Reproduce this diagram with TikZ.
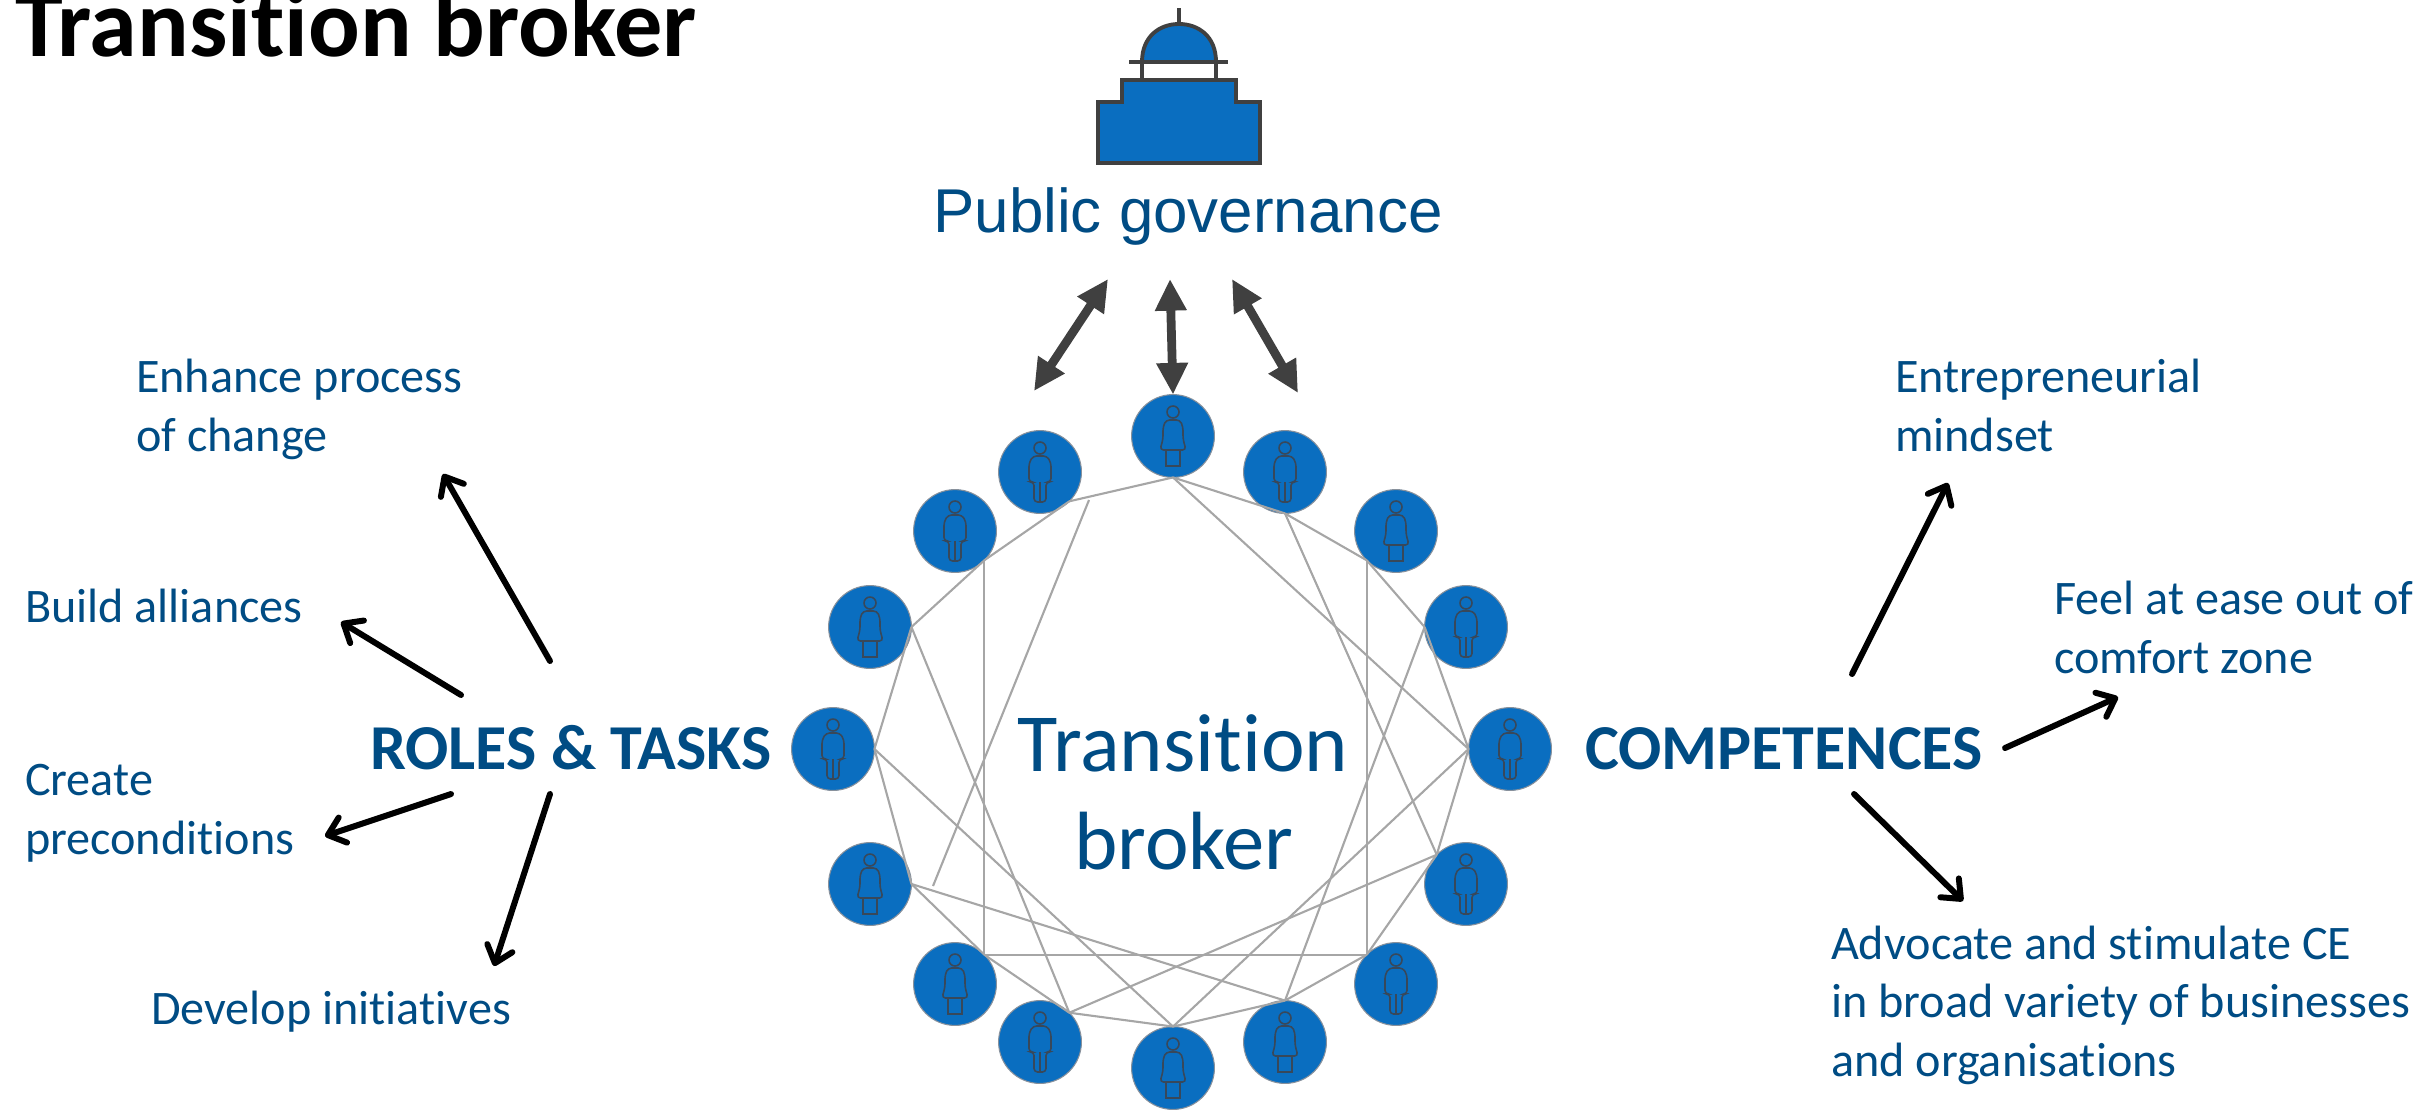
\documentclass[tikz,border=0pt]{standalone}
\usepackage{fontspec}
\usepackage{xcolor}
\usetikzlibrary{arrows.meta}
\setmainfont{Carlito}[Ligatures=CommonOff]
\newfontfamily\govfont{Liberation Sans}
\definecolor{brokerblue}{HTML}{004C84}
\definecolor{discblue}{HTML}{0A6EC0}
\definecolor{iconline}{HTML}{38485A}
\definecolor{arrowgrey}{HTML}{404040}
\definecolor{wiregrey}{HTML}{A6A6A6}
\newcommand{\labelfont}{\fontsize{13.7}{16.6}\selectfont}

\tikzset{
  person/.style={shape=circle,fill=discblue,draw=iconline!60,line width=0.3pt,minimum size=0.828cm,inner sep=0pt,outer sep=0pt},
  wire/.style={draw=wiregrey,line width=0.6pt},
  label/.style={anchor=base west,inner sep=0pt,align=left,text=brokerblue,font=\labelfont},
  heading/.style={anchor=base west,inner sep=0pt,text=brokerblue,font=\fontsize{18.2}{22}\selectfont\bfseries},
  centretext/.style={anchor=base,inner sep=0pt,text=brokerblue,font=\fontsize{23.5}{28}\selectfont},
  task/.style={->,line width=1.7pt,line cap=round,>={Straight Barb[length=4.5pt,width=7.5pt,round]}},
  link/.style={<->,draw=arrowgrey,fill=arrowgrey,line width=2.5pt,>={Triangle[length=9pt,width=8.5pt]}},
  manicon/.pic={
    \draw[iconline,line width=0.45pt] (0,-24) circle[radius=6];
    \draw[iconline,line width=0.45pt,rounded corners=1pt] (-11,-9) -- (-7,-16) -- (7,-16) -- (11,-9) -- (11,10) -- (6,10) -- (6,30) -- (-6,30) -- (-6,10) -- (-11,10) -- cycle;
    \draw[iconline,line width=0.45pt] (0,10) -- (0,30);
  },
  womanicon/.pic={
    \draw[iconline,line width=0.45pt] (0,-24) circle[radius=6];
    \draw[iconline,line width=0.45pt,rounded corners=1pt] (-10,-9) -- (-7,-16) -- (7,-16) -- (10,-9) -- (10,3) -- (13,14) -- (-13,14) -- (-10,3) -- cycle;
    \draw[iconline,line width=0.45pt] (-7,14) -- (-7,30) -- (7,30) -- (7,14);
  }
}

\begin{document}
\begin{tikzpicture}[
            x = 0.01cm, % one unit is one pixel of the reference
            y = -0.01cm, % y runs down the page
            semithick % line style
        ]
\useasboundingbox (0,0) rectangle (2428,1109);

% title
\node[anchor=base west,inner sep=0pt,font=\fontsize{27.4}{32}\selectfont\bfseries] (title) at (14,57) {Transition broker};

% building
\draw[fill=discblue,draw=arrowgrey,line width=1.1pt] (1098,163) -- (1098,102) -- (1122,102) -- (1122,80) -- (1236,80) -- (1236,102) -- (1260,102) -- (1260,163) -- cycle;
\draw[fill=discblue,draw=arrowgrey,line width=1.1pt] (1142,62) .. controls (1142,36) and (1160,24) .. (1179,24) .. controls (1198,24) and (1216,36) .. (1216,62) -- cycle;
\draw[arrowgrey,line width=1.1pt] (1129,62) -- (1228,62);
\draw[arrowgrey,line width=1.1pt] (1142,62) -- (1142,80);
\draw[arrowgrey,line width=1.1pt] (1216,62) -- (1216,80);
\draw[arrowgrey,line width=1.1pt] (1179,24) -- (1179,8);

\node[anchor=base,inner sep=0pt,text=brokerblue,font=\fontsize{17.6}{21}\selectfont\govfont] (gov) at (1188,232) {Public governance};

% ring of people
\node[person] (n0) at (1173,436) {}; \pic at (n0) {womanicon};
\node[person] (n1) at (1285,472) {}; \pic at (n1) {manicon};
\node[person] (n2) at (1396,531) {}; \pic at (n2) {womanicon};
\node[person] (n3) at (1466,627) {}; \pic at (n3) {manicon};
\node[person] (n4) at (1510,749) {}; \pic at (n4) {manicon};
\node[person] (n5) at (1466,884) {}; \pic at (n5) {manicon};
\node[person] (n6) at (1396,984) {}; \pic at (n6) {manicon};
\node[person] (n7) at (1285,1042) {}; \pic at (n7) {womanicon};
\node[person] (n8) at (1173,1068) {}; \pic at (n8) {womanicon};
\node[person] (n9) at (1040,1042) {}; \pic at (n9) {manicon};
\node[person] (n10) at (955,984) {}; \pic at (n10) {womanicon};
\node[person] (n11) at (870,884) {}; \pic at (n11) {womanicon};
\node[person] (n12) at (833,749) {}; \pic at (n12) {manicon};
\node[person] (n13) at (870,627) {}; \pic at (n13) {womanicon};
\node[person] (n14) at (955,531) {}; \pic at (n14) {manicon};
\node[person] (n15) at (1040,472) {}; \pic at (n15) {manicon};

% outer ring
\path [wire] (n0.south) edge (n1.south);
\path [wire] (n1.south) edge (n2.225);
\path [wire] (n2.225) edge (n3.west);
\path [wire] (n3.west) edge (n4.west);
\path [wire] (n4.west) edge (n5.135);
\path [wire] (n5.135) edge (n6.135);
\path [wire] (n6.135) edge (n7.north);
\path [wire] (n7.north) edge (n8.north);
\path [wire] (n8.north) edge (n9.45);
\path [wire] (n9.45) edge (n10.45);
\path [wire] (n10.45) edge (n11.east);
\path [wire] (n11.east) edge (n12.east);
\path [wire] (n12.east) edge (n13.east);
\path [wire] (n13.east) edge (n14.-45);
\path [wire] (n14.-45) edge (n15.-45);
\path [wire] (n15.-45) edge (n0.south);

% chords
\path [wire] (n14.-45) edge (n10.45);
\path [wire] (n2.225) edge (n6.135);
\path [wire] (n10.45) edge (n6.135);
\path [wire] (n0.south) edge (n4.west);
\path [wire] (n1.south) edge (n5.135);
\path [wire] (n3.west) edge (n7.north);
\path [wire] (n4.west) edge (n8.north);
\path [wire] (n5.135) edge (n9.45);
\path [wire] (n11.east) edge (n7.north);
\path [wire] (n12.east) edge (n8.north);
\path [wire] (n13.east) edge (n9.45);
\coordinate (loose1) at (1089,500);
\coordinate (loose2) at (933,886);
\path [wire] (loose1) edge (loose2);

\node[centretext] (broker1) at (1183,771) {Transition};
\node[centretext] (broker2) at (1184,869) {broker};

% links up to the building
\coordinate (up1) at (1108,279);
\coordinate (up2) at (1170,279);
\coordinate (up3) at (1232,279);
\coordinate (down1) at (1034,391);
\coordinate (down3) at (1298,393);
\draw [link] (down1) -- (up1);
\draw [link] (n0.north) -- (up2);
\draw [link] (down3) -- (up3);

% left side
\node[heading] (roles) at (369,769) {ROLES \& TASKS};
\node[label] (enhance) at (135,451) {Enhance process\\of change};
\node[label] (build) at (24,622) {Build alliances};
\node[label] (create) at (24,854) {Create\\preconditions};
\node[label] (develop) at (150,1024) {Develop initiatives};

\coordinate (r1) at (550,661);
\coordinate (r2) at (461,695);
\coordinate (r3) at (451,794);
\coordinate (r4) at (550,794);
\coordinate (e1) at (443,474);
\coordinate (e2) at (341,622);
\coordinate (e3) at (325,836);
\coordinate (e4) at (494,966);
\path [task] (r1) edge (e1);
\path [task] (r2) edge (e2);
\path [task] (r3) edge (e3);
\path [task] (r4) edge (e4);

% right side
\node[heading] (comp) at (1584,769) {COMPETENCES};
\node[label] (mindset) at (1894,451) {Entrepreneurial\\mindset};
\node[label] (ease) at (2053,673) {Feel at ease out of\\comfort zone};
\node[label] (advocate) at (1830,1076) {Advocate and stimulate CE\\in broad variety of businesses\\and organisations};

\coordinate (c1) at (1852,674);
\coordinate (c2) at (2005,748);
\coordinate (c3) at (1854,794);
\coordinate (f1) at (1948,483);
\coordinate (f2) at (2118,697);
\coordinate (f3) at (1963,901);
\path [task] (c1) edge (f1);
\path [task] (c2) edge (f2);
\path [task] (c3) edge (f3);
\end{tikzpicture}
\end{document}
